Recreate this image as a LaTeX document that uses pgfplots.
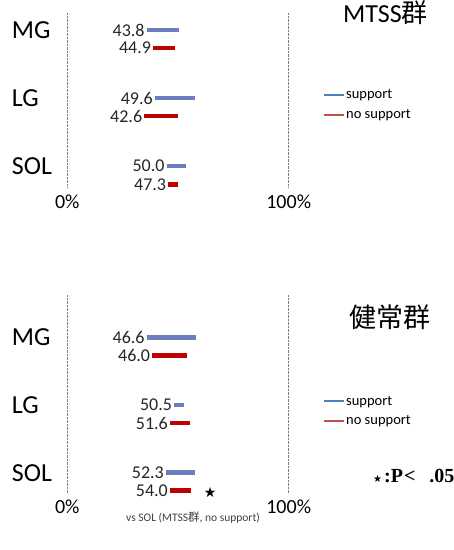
\documentclass[border=0pt]{standalone}
\usepackage{pgfplots}
\pgfplotsset{compat=1.18}
\usepackage{pgfplotstable}
\usepackage{fontspec}
\setmainfont{Carlito}
\newfontfamily\cjk{Noto Sans CJK JP}
\newfontfamily\symfont{DejaVu Sans}
\newfontfamily\serifb{Liberation Serif}
\definecolor{barblue}{HTML}{6A7DBF}
\definecolor{barred}{HTML}{C00000}
\definecolor{legblue}{HTML}{4F81BD}
\definecolor{legred}{HTML}{C0504D}

% lo, hi: ends of each bar (% scale); y: row; lab: value shown
\pgfplotstableread{
lo   hi   y     lab
35.9 50.6 1     43.8
39.6 57.7 2     49.6
44.9 53.5 3     50.0
}\topsup
\pgfplotstableread{
lo   hi   y     lab
38.8 48.6 1.265 44.9
34.8 50.1 2.265 42.6
45.6 50.1 3.265 47.3
}\topno
\pgfplotstableread{
lo   hi   y     lab
35.9 58.0 1     46.6
48.3 52.8 2     50.5
44.6 57.7 3     52.3
}\botsup
\pgfplotstableread{
lo   hi   y     lab
38.4 53.9 1.265 46.0
46.4 55.4 2.265 51.6
46.4 55.9 3.265 54.0
}\botno

\pgfplotsset{
  panel/.style={
    scale only axis, width=221.4pt,
    xmin=0, xmax=100, y dir=reverse,
    axis line style={draw=none}, tick style={draw=none},
    xtick={0,100}, xticklabels={0\%,100\%},
    xticklabel style={font=\fontsize{20}{22}\selectfont, yshift=-3pt},
    xmajorgrids, grid style={densely dotted, gray, line width=0.6pt},
    ytick={1,2,3}, yticklabels={MG,LG,SOL},
    yticklabel style={font=\fontsize{26}{28}\selectfont, anchor=west, inner sep=0pt, xshift=-55.5pt},
    clip=false,
    legend cell align=left,
    legend style={draw=none, fill=none, font=\fontsize{14.5}{15}\selectfont, row sep=5pt, inner sep=0pt,
      nodes={inner xsep=1pt}},
  },
  lbl/.style={
    nodes near coords, point meta=explicit symbolic,
    every node near coord/.style={anchor=east, font=\fontsize{18}{19}\selectfont, inner sep=2pt, text=black!85},
  },
  rng/.style={
    only marks, mark=none,
    error bars/.cd, x dir=plus, x explicit,
    error mark=none,
    error bar style={line width=4.5pt, draw=#1},
    /pgfplots/.cd,
  },
  legsup/.style={legend image code/.code={\draw[line width=2pt, legblue] (0pt,0pt) -- (20pt,0pt);}},
  legno/.style={legend image code/.code={\draw[line width=2pt, legred] (0pt,0pt) -- (20pt,0pt);}},
}

\begin{document}
\begin{tikzpicture}
\useasboundingbox (0,0) rectangle (454pt,550pt);

% ---------- top panel (MTSS) ----------
\begin{axis}[panel, at={(67.3pt,362pt)}, anchor=south west, height=175pt,
  ymin=0.75, ymax=3.32,
  legend style={at={(axis cs:115.5,2.10)}, anchor=west}]
\addplot+[legsup, lbl, rng=barblue] table[x=lo, y=y, x error expr=\thisrow{hi}-\thisrow{lo}, meta=lab] {\topsup};
\addlegendentry{support}
\addplot+[legno, lbl, rng=barred] table[x=lo, y=y, x error expr=\thisrow{hi}-\thisrow{lo}, meta=lab] {\topno};
\addlegendentry{no support}
\end{axis}
\node[anchor=west, inner sep=0pt, font=\fontsize{26}{28}\selectfont] at (343pt,537.5pt) {MTSS{\cjk 群}};

% ---------- bottom panel (健常群) ----------
\begin{axis}[panel, at={(67.3pt,57pt)}, anchor=south west, height=198pt,
  ymin=0.37, ymax=3.30,
  legend style={at={(axis cs:115.5,2.09)}, anchor=west}]
\addplot+[legsup, lbl, rng=barblue] table[x=lo, y=y, x error expr=\thisrow{hi}-\thisrow{lo}, meta=lab] {\botsup};
\addlegendentry{support}
\addplot+[legno, lbl, rng=barred] table[x=lo, y=y, x error expr=\thisrow{hi}-\thisrow{lo}, meta=lab] {\botno};
\addlegendentry{no support}
\node[font=\symfont\fontsize{14}{15}\selectfont] at (axis cs:64.5,3.29) {★};
\end{axis}
\node[anchor=west, inner sep=0pt, font=\cjk\fontsize{27}{29}\selectfont] at (349pt,233pt) {健常群};
\node[anchor=west, inner sep=0pt] at (373pt,74pt) {{\symfont\fontsize{10}{11}\selectfont ★}\kern2pt{\serifb\bfseries\fontsize{20}{22}\selectfont :P\kern1pt<\kern14pt.05}};
\node[inner sep=0pt, text=black!75, font=\fontsize{11.5}{12}\selectfont] at (193pt,32pt) {vs SOL (MTSS{\cjk 群}, no support)};
\end{tikzpicture}
\end{document}
